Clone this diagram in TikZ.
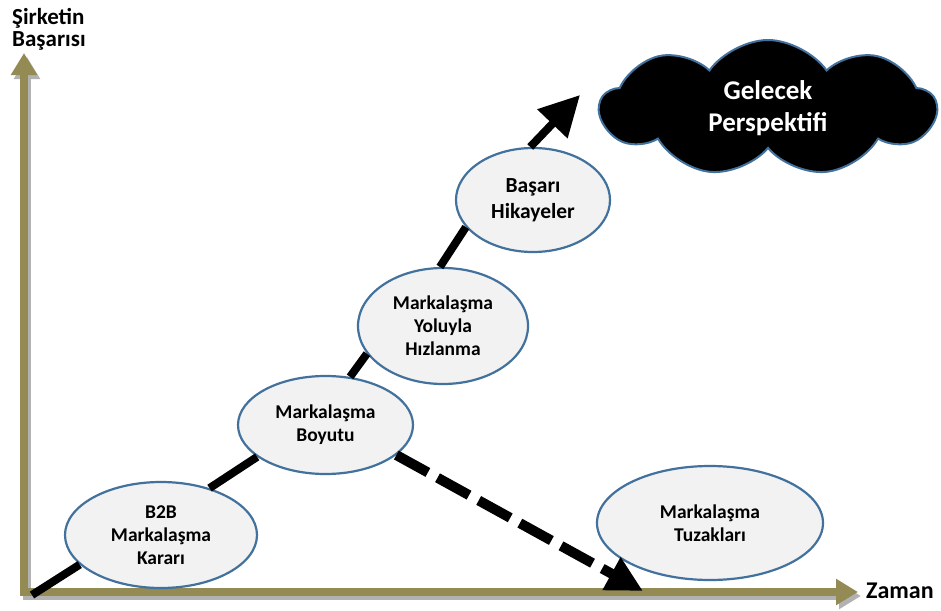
\documentclass[tikz,border=0pt]{standalone}
\usepackage{fontspec}
\setmainfont{Carlito}
\usepackage{xcolor}
\usepackage{tikz}
\usetikzlibrary{arrows.meta,calc,positioning,shapes.geometric,shapes.symbols}
\definecolor{eksen}{HTML}{948A54}
\definecolor{kenar}{HTML}{41719C}
\definecolor{dolgu}{HTML}{F2F2F2}

\begin{document}
\begin{tikzpicture}[x=1pt,y=-1pt,line join=miter,
  asama/.style={ellipse,draw=kenar,line width=2.2pt,fill=dolgu,inner sep=0pt,align=center,
    font=\fontsize{19.5}{23}\selectfont\bfseries},
  bag/.style={line width=8pt,black},
  ok/.style={-{Triangle[width=40pt,length=40pt]}}]
\useasboundingbox (0,0) rectangle (941,610);
% eksenler
\draw[gray!60,line width=8pt,{Triangle[width=25pt,length=22pt]}-{Triangle[width=25pt,length=22pt]}] (27,57) -- (27,596) -- (861,596);
\draw[eksen,line width=8pt,{Triangle[width=25pt,length=22pt]}-{Triangle[width=25pt,length=22pt]}] (24,53) -- (24,592) -- (858,592);
\node[anchor=base west,align=left,inner sep=0pt,font=\fontsize{23}{22}\selectfont\bfseries] (y) at (12,47) {Şirketin\\Başarısı};
\node[anchor=base west,font=\fontsize{24}{22}\selectfont\bfseries,inner sep=0pt] (x) at (866,598) {Zaman};
% asamalar
\node[asama,minimum width=192pt,minimum height=106pt] (b2b) at (161,535) {B2B\\Markalaşma\\Kararı};
\node[asama,minimum width=175pt,minimum height=98pt] (boyut) at (325.5,425) {Markalaşma\\Boyutu};
\node[asama,minimum width=170pt,minimum height=116pt] (hiz) at (443,326) {Markalaşma\\Yoluyla\\Hızlanma};
\node[asama,minimum width=154pt,minimum height=104pt,font=\fontsize{21.5}{26.5}\selectfont\bfseries] (basari) at (533,200) {Başarı\\Hikayeler};
\node[asama,minimum width=226pt,minimum height=114pt] (tuzak) at (710,523) {Markalaşma\\Tuzakları};
\node[cloud,cloud puffs=9,cloud puff arc=110,aspect=2.5,draw=kenar,line width=2pt,fill=black,
  minimum width=336pt,minimum height=136pt,inner sep=0pt,text=white,align=center,
  font=\fontsize{27}{32}\selectfont\bfseries] (gelecek) at (768,108) {Gelecek\\Perspektifi};
% baglar
\coordinate (O) at (32,595);
\coordinate (T1) at (580,95);
\coordinate (T2) at (643,591);
\draw[bag] (O) -- (b2b.200);
\draw[bag] (b2b.44) -- (boyut.205);
\draw[bag] (boyut.63) -- (hiz.200);
\draw[bag] (hiz.93) -- (basari.202);
\draw[bag,ok] (basari.93) -- (T1);
\draw[bag,line width=10pt,dash pattern=on 36pt off 11pt,-{Triangle[width=35pt,length=36pt]}] (boyut.337) -- (T2);
\end{tikzpicture}
\end{document}
